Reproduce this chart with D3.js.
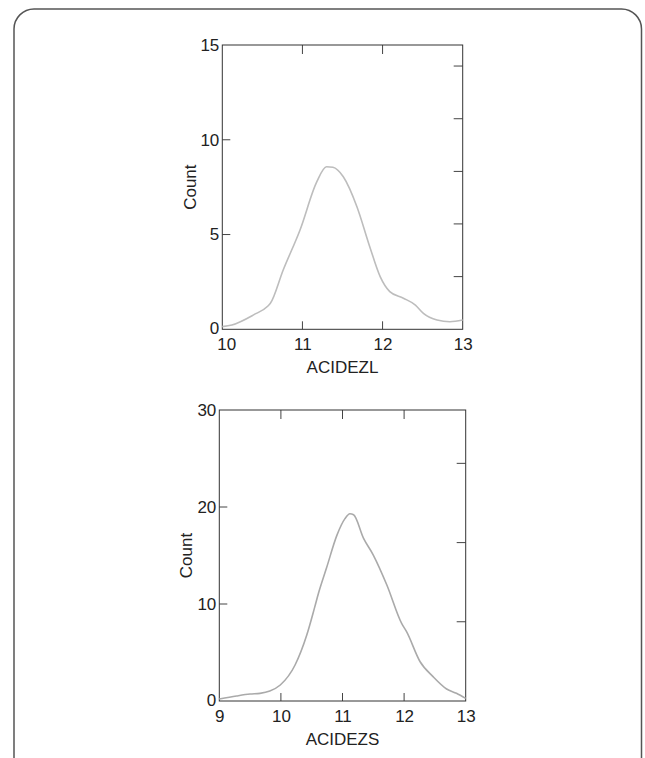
<!DOCTYPE html>
<html><head><meta charset="utf-8">
<script src="https://cdn.jsdelivr.net/npm/d3@7"></script>
<style>body{margin:0;background:#fff}svg{display:block}text{font-family:"Liberation Sans",Arial,sans-serif;fill:#222}</style>
</head><body><svg id="c" width="645" height="758"></svg>
<script>
// Panel 1: ACIDEZL
const xL = [10,10.12,10.39,10.57,10.6,10.76,10.97,11.18,11.30,11.38,11.51,11.68,11.84,11.97,12.09,12.26,12.41,12.51,12.68,12.84,13];
const yL = [0.14,0.23,0.76,1.23,1.37,3.13,5.24,7.79,8.58,8.55,8.05,6.47,4.36,2.78,1.99,1.64,1.28,0.84,0.49,0.40,0.49];
const xTicksL = [10,11,12,13];
const yTicksL = [0,5,10,15];
const rightTicksL = [2.78,5.56,8.33,11.11,13.89];
// Panel 2: ACIDEZS
const xS = [9,9.28,9.50,9.66,9.82,9.99,10.23,10.42,10.55,10.61,10.74,10.91,11.04,11.12,11.18,11.34,11.50,11.72,11.96,12.04,12.26,12.47,12.69,12.85,13];
const yS = [0.2,0.52,0.72,0.79,1.03,1.65,3.71,6.8,9.7,11.1,13.7,17.1,18.8,19.3,19.2,16.8,15.05,11.96,8.0,7.15,4.05,2.51,1.24,0.79,0.27];
const xTicksS = [9,10,11,12,13];
const yTicksS = [0,10,20,30];
const rightTicksS = [8.17,16.33,24.5];

const FS = 17;
const svg = d3.select("#c");
svg.append("rect").attr("x",14).attr("y",9).attr("width",627.5).attr("height",790)
  .attr("rx",20).attr("fill","none").attr("stroke","#555").attr("stroke-width",1.5);

function panel(o){
  const x = d3.scaleLinear().domain(o.xd).range([o.l,o.r]);
  const y = d3.scaleLinear().domain(o.yd).range([o.b,o.t]);
  const g = svg.append("g");
  const inner = o.xt.filter(v=>v>o.xd[0]&&v<o.xd[1]);
  const ax = g.append("g").attr("transform",`translate(0,${o.b})`)
    .call(d3.axisBottom(x).tickValues(o.xt).tickSize(0).tickPadding(9).tickFormat(d3.format("d")));
  ax.attr("font-size",FS).attr("font-family","Liberation Sans, Arial, sans-serif");
  ax.select(".domain").remove();
  ax.selectAll("text").attr("fill","#222").attr("dx",(d,i)=>i===0?o.firstDx:0);
  const ay = g.append("g").attr("transform",`translate(${o.l},0)`)
    .call(d3.axisLeft(y).tickValues(o.yt).tickSize(0).tickPadding(3).tickFormat(d3.format("d")));
  ay.attr("font-size",FS).attr("font-family","Liberation Sans, Arial, sans-serif");
  ay.select(".domain").remove();
  ay.selectAll("text").attr("fill","#222").attr("dy",(d,i)=>i===0?"0.26em":"0.32em");
  const tk = g.append("g").attr("stroke","#444").attr("stroke-width",1);
  inner.forEach(v=>{
    tk.append("line").attr("x1",x(v)).attr("x2",x(v)).attr("y1",o.b).attr("y2",o.b-8);
    tk.append("line").attr("x1",x(v)).attr("x2",x(v)).attr("y1",o.t).attr("y2",o.t+9);
  });
  o.yt.filter(v=>v>o.yd[0]&&v<o.yd[1]).forEach(v=>{
    tk.append("line").attr("x1",o.l).attr("x2",o.l+8).attr("y1",y(v)).attr("y2",y(v));
  });
  o.rt.forEach(v=>{
    tk.append("line").attr("x1",o.r).attr("x2",o.r-9).attr("y1",y(v)).attr("y2",y(v));
  });
  g.append("rect").attr("x",o.l).attr("y",o.t).attr("width",o.r-o.l).attr("height",o.b-o.t)
    .attr("fill","none").attr("stroke","#333").attr("stroke-width",1);
  const pts = o.xs.map((v,i)=>[v,o.ys[i]]);
  g.append("path").datum(pts).attr("fill","none").attr("stroke",o.color).attr("stroke-width",1.6)
    .attr("d",d3.line().x(d=>x(d[0])).y(d=>y(d[1])).curve(d3.curveMonotoneX));
  g.append("text").attr("x",(o.l+o.r)/2).attr("y",o.xlabY).attr("text-anchor","middle")
    .attr("font-size",FS).text(o.xlab);
  g.append("text").attr("transform",`translate(${o.ylabX},${(o.t+o.b)/2}) rotate(-90)`)
    .attr("text-anchor","middle").attr("font-size",FS).text("Count");
}

panel({xd:[10,13],yd:[0,15],l:222.3,r:462.7,t:45,b:329.3,xt:xTicksL,yt:yTicksL,rt:rightTicksL,
  xs:xL,ys:yL,color:"#bdbdbd",xlab:"ACIDEZL",xlabY:373,ylabX:195.5,firstDx:4});
panel({xd:[9,13],yd:[0,30],l:219.3,r:465.7,t:410,b:701,xt:xTicksS,yt:yTicksS,rt:rightTicksS,
  xs:xS,ys:yS,color:"#aaaaaa",xlab:"ACIDEZS",xlabY:745,ylabX:191.5,firstDx:0});
</script></body></html>
